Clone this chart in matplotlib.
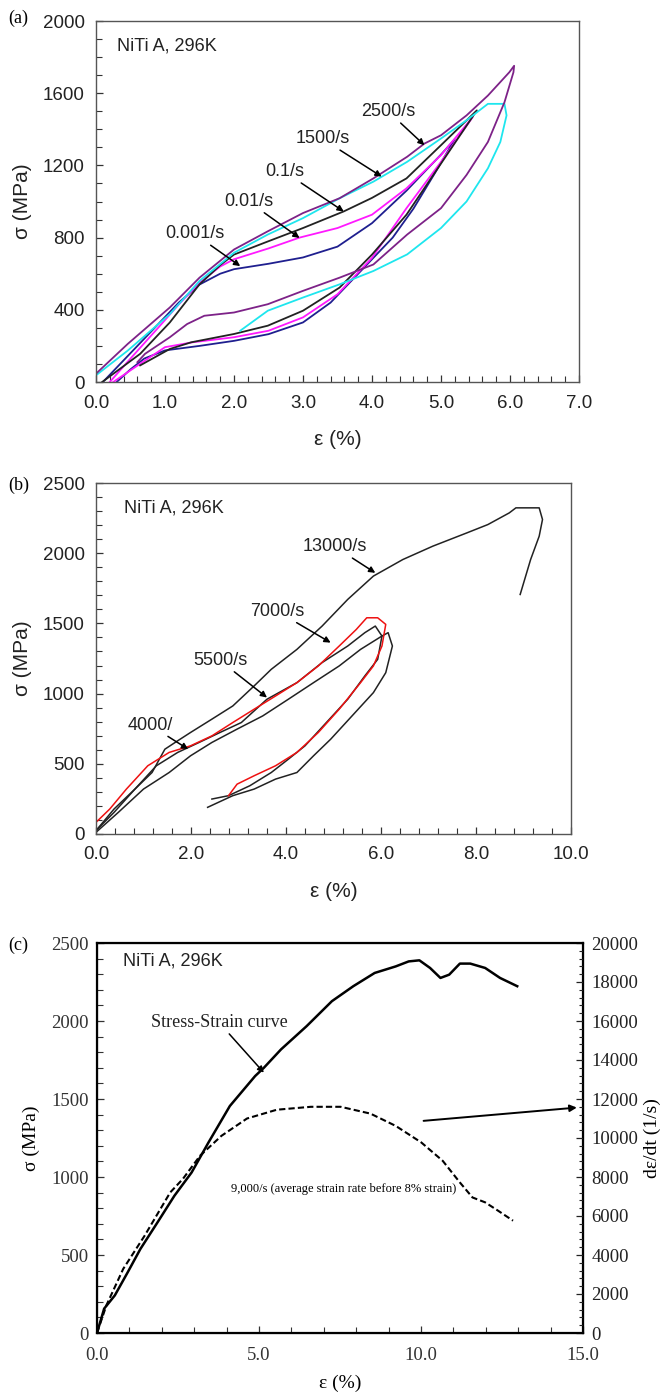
import matplotlib.pyplot as plt
from matplotlib.ticker import MultipleLocator, FormatStrFormatter

# ---------- (a) quasi-static and moderate rates, loading/unloading loops ----------
eps_001 = [0.1, 0.4, 0.8, 1.2, 1.5, 1.8, 2.0, 2.5, 3.0, 3.5, 4.0, 4.5, 5.0, 5.2,
           4.9, 4.6, 4.3, 4.0, 3.7, 3.4, 3.0, 2.5, 2.0, 1.5, 1.0, 0.7, 0.5, 0.3]
sig_001 = [0, 120, 280, 440, 540, 600, 625, 655, 690, 750, 880, 1060, 1260, 1345,
           1150, 960, 800, 680, 560, 440, 330, 265, 228, 200, 175, 130, 70, 0]

eps_01 = [0.2, 0.5, 0.9, 1.2, 1.5, 1.8, 2.0, 2.5, 2.95, 3.5, 4.0, 4.5, 5.0, 5.46,
          5.0, 4.5, 4.0, 3.5, 3.0, 2.5, 2.0, 1.4, 1.0, 0.64, 0.25]
sig_01 = [0, 130, 300, 430, 550, 640, 680, 740, 800, 853, 927, 1073, 1257, 1468,
          1220, 963, 688, 486, 358, 284, 248, 220, 193, 101, 0]

eps_1 = [0.09, 0.64, 1.07, 1.5, 1.81, 2.0, 2.5, 3.0, 3.59, 4.0, 4.5, 5.0, 5.52,
         4.5, 4.0, 3.53, 3.0, 2.49, 2.0, 1.38, 1.07, 0.64]
sig_1 = [0, 156, 330, 541, 651, 706, 780, 853, 945, 1020, 1128, 1312, 1505,
         927, 706, 523, 395, 312, 266, 220, 183, 92]

eps_1500 = [0.0, 0.46, 1.07, 1.5, 2.0, 2.49, 3.0, 3.53, 4.02, 4.51, 5.0, 5.37, 5.68, 5.92,
            5.95, 5.86, 5.68, 5.37, 5.0, 4.51, 4.02, 3.53, 3.0, 2.49, 2.09]
sig_1500 = [37, 174, 376, 560, 716, 817, 908, 1018, 1110, 1220, 1349, 1450, 1541, 1541,
            1477, 1330, 1184, 1000, 853, 707, 615, 541, 468, 395, 284]

eps_2500 = [0.0, 0.46, 1.07, 1.5, 2.0, 2.49, 3.0, 3.53, 4.02, 4.51, 4.76, 5.0, 5.37, 5.68, 5.99, 6.06,
            6.05, 5.92, 5.68, 5.37, 5.0, 4.51, 4.02, 3.53, 3.0, 2.49, 2.0, 1.57, 1.32, 1.07, 0.71, 0.6]
sig_2500 = [46, 211, 413, 578, 734, 835, 936, 1018, 1128, 1248, 1321, 1367, 1477, 1587, 1716, 1752,
            1716, 1550, 1330, 1147, 963, 817, 651, 578, 505, 431, 385, 367, 321, 248, 156, 110]

# ---------- (b) high rates ----------
eps_13000 = [0.0, 0.38, 0.82, 1.18, 1.45, 1.72, 1.99, 2.44, 2.88, 3.33, 3.69, 4.23, 4.76, 5.3,
             5.84, 6.46, 7.09, 7.81, 8.25, 8.7, 8.84, 9.33, 9.4, 9.33, 9.15, 8.93]
sig_13000 = [24, 154, 320, 438, 604, 664, 723, 818, 912, 1055, 1173, 1315, 1481, 1671,
             1837, 1955, 2050, 2145, 2204, 2287, 2323, 2323, 2240, 2121, 1955, 1706]

eps_7000 = [0.0, 0.29, 0.64, 1.09, 1.54, 1.99, 2.44, 2.88, 3.33, 3.78, 4.23, 4.68, 5.12, 5.48, 5.7,
            5.93, 6.1, 6.02, 5.84, 5.57, 5.12, 4.68, 4.23, 3.78, 3.33, 2.97, 2.79]
sig_7000 = [83, 178, 320, 486, 581, 628, 699, 794, 889, 983, 1078, 1197, 1339, 1457, 1540,
            1540, 1493, 1339, 1197, 1078, 889, 723, 581, 486, 415, 355, 273]

eps_5500 = [0.0, 0.38, 0.82, 1.27, 1.72, 2.17, 2.61, 3.06, 3.6, 4.23, 4.76, 5.3, 5.66, 5.88,
            6.02, 5.93, 5.66, 5.3, 4.85, 4.4, 4.05, 3.69, 3.24, 2.79, 2.44]
sig_5500 = [24, 178, 320, 486, 581, 652, 723, 794, 960, 1078, 1221, 1339, 1434, 1481,
            1410, 1244, 1126, 960, 794, 628, 533, 438, 344, 273, 249]

eps_4000 = [0.0, 0.47, 1.0, 1.54, 1.99, 2.44, 2.97, 3.51, 4.05, 4.58, 5.12, 5.57, 6.02, 6.15,
            6.24, 6.1, 5.84, 5.39, 4.94, 4.58, 4.23, 3.78, 3.33, 2.88, 2.35]
sig_4000 = [12, 154, 320, 438, 557, 652, 747, 841, 960, 1078, 1197, 1315, 1410, 1434,
            1339, 1149, 1007, 841, 675, 557, 438, 391, 320, 273, 190]

# ---------- (c) stress and strain rate at ~9000/s ----------
eps_c = [0.0, 0.22, 0.55, 0.95, 1.34, 1.87, 2.39, 2.92, 3.44, 4.1, 4.88, 5.15, 5.68, 6.47,
         7.25, 7.91, 8.57, 9.22, 9.62, 9.95, 10.28, 10.6, 10.87, 11.2, 11.52, 11.98, 12.44, 12.97]
sig_c = [0, 156, 241, 390, 539, 710, 880, 1029, 1221, 1455, 1647, 1700, 1818, 1967,
         2127, 2223, 2308, 2350, 2382, 2389, 2340, 2276, 2297, 2368, 2368, 2340, 2276, 2223]

eps_rate = [0.0, 0.29, 0.81, 1.47, 2.26, 2.65, 3.18, 3.84, 4.63, 5.55, 6.6, 7.52, 8.44,
            9.22, 10.01, 10.67, 11.2, 11.59, 11.98, 12.38, 12.84]
rate_c = [0, 1420, 3290, 4990, 7210, 7900, 9090, 10110, 11000, 11450, 11600, 11600, 11250,
          10620, 9770, 8830, 7720, 6950, 6700, 6270, 5760]

W, H = 665, 1398
fig = plt.figure(figsize=(W / 100, H / 100), dpi=100)
sans = 'Liberation Sans'
serif = 'Liberation Serif'


def box(l, t, r, b):
    return [l / W, 1 - b / H, (r - l) / W, (b - t) / H]


def style_axes(ax, color='#555555', lw=1.0):
    for s in ax.spines.values():
        s.set_color(color)
        s.set_linewidth(lw)
    ax.tick_params(which='both', direction='in', top=False, right=False, colors='#333333')
    ax.tick_params(which='major', length=5, width=0.9)
    ax.tick_params(which='minor', length=4, width=0.8)


def arrow(ax, text, xy, xytext, fs=13, family=sans):
    ax.annotate(text, xy=xy, xytext=xytext, fontsize=fs, family=family, ha='center', va='bottom',
                color='#222222',
                arrowprops=dict(arrowstyle='-|>', color='black', lw=1.1, mutation_scale=9,
                                shrinkA=0, shrinkB=0))


# ----- panel (a) -----
ax1 = fig.add_axes(box(96, 21, 579, 382))
ax1.plot(eps_001, sig_001, color='#1f1f8f', lw=1.3)
ax1.plot(eps_01, sig_01, color='#ff19ff', lw=1.3)
ax1.plot(eps_1, sig_1, color='#222222', lw=1.3)
ax1.plot(eps_1500, sig_1500, color='#1ee6ee', lw=1.3)
ax1.plot(eps_2500, sig_2500, color='#7d2288', lw=1.3)
ax1.set_xlim(0, 7)
ax1.set_ylim(0, 2000)
ax1.xaxis.set_major_locator(MultipleLocator(1))
ax1.xaxis.set_minor_locator(MultipleLocator(0.2))
ax1.yaxis.set_major_locator(MultipleLocator(400))
ax1.yaxis.set_minor_locator(MultipleLocator(100))
ax1.xaxis.set_major_formatter(FormatStrFormatter('%.1f'))
style_axes(ax1)
for lab in ax1.get_xticklabels() + ax1.get_yticklabels():
    lab.set_fontfamily(sans)
    lab.set_fontsize(13.5)
    lab.set_color('#222222')
ax1.tick_params(axis='x', pad=9)
ax1.tick_params(axis='y', pad=8)
ax1.set_xlabel('ε (%)', fontsize=15, family=sans, labelpad=13, color='#222222')
ax1.set_ylabel('σ (MPa)', fontsize=15, family=sans, labelpad=8, color='#222222')
ax1.text(0.31, 1862, 'NiTi A, 296K', fontsize=13, family=sans, va='center', color='#222222')
arrow(ax1, '2500/s', (4.76, 1312), (4.24, 1450))
arrow(ax1, '1500/s', (4.14, 1138), (3.28, 1300))
arrow(ax1, '0.1/s', (3.59, 945), (2.73, 1118))
arrow(ax1, '0.01/s', (2.95, 798), (2.21, 953))
arrow(ax1, '0.001/s', (2.09, 642), (1.43, 773))
fig.text(8 / W, 1 - 18 / H, '(a)', fontsize=13, family=serif, va='center')

# ----- panel (b) -----
ax2 = fig.add_axes(box(96, 483, 571, 834))
ax2.plot(eps_13000, sig_13000, color='#222222', lw=1.1)
ax2.plot(eps_5500, sig_5500, color='#222222', lw=1.1)
ax2.plot(eps_4000, sig_4000, color='#222222', lw=1.1)
ax2.plot(eps_7000, sig_7000, color='#ee1111', lw=1.1)
ax2.set_xlim(0, 10)
ax2.set_ylim(0, 2500)
ax2.xaxis.set_major_locator(MultipleLocator(2))
ax2.xaxis.set_minor_locator(MultipleLocator(0.4))
ax2.yaxis.set_major_locator(MultipleLocator(500))
ax2.yaxis.set_minor_locator(MultipleLocator(100))
ax2.xaxis.set_major_formatter(FormatStrFormatter('%.1f'))
style_axes(ax2)
for lab in ax2.get_xticklabels() + ax2.get_yticklabels():
    lab.set_fontfamily(sans)
    lab.set_fontsize(13.5)
    lab.set_color('#222222')
ax2.tick_params(axis='x', pad=9)
ax2.tick_params(axis='y', pad=8)
ax2.set_xlabel('ε (%)', fontsize=15, family=sans, labelpad=13, color='#222222')
ax2.set_ylabel('σ (MPa)', fontsize=15, family=sans, labelpad=8, color='#222222')
ax2.text(0.6, 2320, 'NiTi A, 296K', fontsize=13, family=sans, va='center', color='#222222')
arrow(ax2, '13000/s', (5.88, 1860), (5.03, 1985))
arrow(ax2, '7000/s', (4.94, 1363), (3.82, 1525))
arrow(ax2, '5500/s', (3.6, 972), (2.61, 1175))
arrow(ax2, '4000/', (1.94, 604), (1.14, 715))
fig.text(8 / W, 1 - 485 / H, '(b)', fontsize=13, family=serif, va='center')

# ----- panel (c) -----
ax3 = fig.add_axes(box(97, 943, 583, 1333))
ax3.plot(eps_c, sig_c, color='black', lw=1.8)
ax3.set_xlim(0, 15)
ax3.set_ylim(0, 2500)
ax3.xaxis.set_major_locator(MultipleLocator(5))
ax3.xaxis.set_minor_locator(MultipleLocator(1))
ax3.yaxis.set_major_locator(MultipleLocator(500))
ax3.yaxis.set_minor_locator(MultipleLocator(100))
ax3.xaxis.set_major_formatter(FormatStrFormatter('%.1f'))
style_axes(ax3, color='black', lw=1.6)
ax3.tick_params(axis='x', pad=10)
ax3.tick_params(axis='y', pad=6)
ax3.set_xlabel('ε (%)', fontsize=14, family=serif, labelpad=8)
ax3.set_ylabel('σ (MPa)', fontsize=14, family=serif, labelpad=8)
ax3r = ax3.twinx()
ax3r.plot(eps_rate, rate_c, color='black', lw=1.5, ls=(0, (3, 1.5)))
ax3r.set_ylim(0, 20000)
ax3r.yaxis.set_major_locator(MultipleLocator(2000))
ax3r.yaxis.set_minor_locator(MultipleLocator(400))
ax3r.tick_params(which='both', direction='in', colors='#222222', pad=6)
ax3r.tick_params(which='major', length=5, width=0.9)
ax3r.tick_params(which='minor', length=3, width=0.8)
ax3r.set_ylabel('dε/dt (1/s)', fontsize=14, family=serif, labelpad=4)
for a in (ax3, ax3r):
    for lab in a.get_xticklabels() + a.get_yticklabels():
        lab.set_fontfamily(serif)
        lab.set_fontsize(13.5)
ax3.text(0.81, 2382, 'NiTi A, 296K', fontsize=13, family=sans, va='center', color='#222222')
arrow(ax3, 'Stress-Strain curve', (5.15, 1669), (3.77, 1935), fs=13, family=serif)
ax3.text(7.6, 925, '9,000/s (average strain rate before 8% strain)', fontsize=9,
         family=serif, ha='center', va='center')
ax3.annotate('', xy=(14.81, 1445), xytext=(10.08, 1360),
             arrowprops=dict(arrowstyle='-|>', color='black', lw=1.4, mutation_scale=10,
                             shrinkA=0, shrinkB=0))
fig.text(8 / W, 1 - 945 / H, '(c)', fontsize=13, family=serif, va='center')

fig.savefig('out.png', dpi=100)
